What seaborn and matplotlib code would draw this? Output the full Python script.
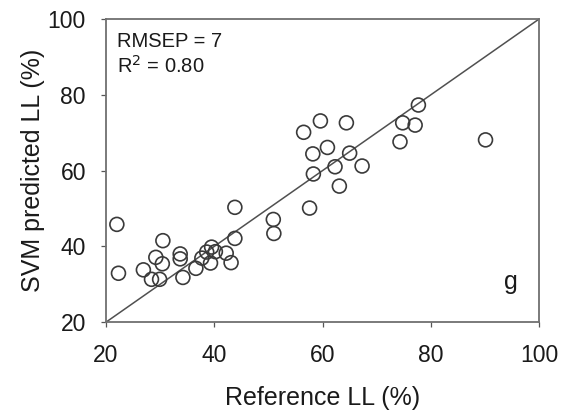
import matplotlib
matplotlib.use("Agg")
import matplotlib.pyplot as plt
import seaborn as sns
import pandas as pd

# Reference vs. SVM-predicted liquid limit (%)
reference_ll = [22.0, 22.3, 26.9, 28.4, 29.9, 29.2, 30.4, 30.5, 33.7, 33.7,
                34.2, 36.6, 37.7, 38.6, 39.5, 40.2, 39.3, 42.2, 43.1, 43.8,
                43.8, 50.9, 51.0, 57.6, 58.3, 56.5, 59.6, 64.4, 58.2, 60.9,
                65.0, 62.3, 67.3, 63.1, 74.8, 77.1, 74.3, 77.7, 90.1]
predicted_ll = [45.8, 32.9, 33.8, 31.3, 31.3, 37.1, 35.4, 41.5, 38.0, 36.7,
                31.8, 34.2, 36.9, 38.5, 39.8, 38.6, 35.6, 38.2, 35.7, 50.3,
                42.1, 47.1, 43.4, 50.1, 59.1, 70.1, 73.1, 72.6, 64.4, 66.1,
                64.6, 61.0, 61.2, 55.9, 72.6, 72.0, 67.6, 77.3, 68.1]

axis_ticks = [20, 40, 60, 80, 100]
identity_line = [20, 100]

df = pd.DataFrame({"reference": reference_ll, "predicted": predicted_ll})

sns.set_theme(style="ticks")
plt.rcParams["font.family"] = ["Liberation Sans", "DejaVu Sans"]

fig = plt.figure(figsize=(5.61, 4.13), dpi=100)
ax = fig.add_axes([0.189, 0.220, 0.772, 0.734])

edge = "#3a3a3a"
ax.plot(identity_line, identity_line, color="#505050", lw=1.1, zorder=1)
sns.scatterplot(data=df, x="reference", y="predicted", ax=ax,
                s=100, facecolor="none", edgecolor=edge, linewidth=1.2,
                zorder=2, legend=False)

ax.set_xlim(20, 100)
ax.set_ylim(20, 100)
ax.set_xticks(axis_ticks)
ax.set_yticks(axis_ticks)
ax.tick_params(direction="out", length=3.5, width=0.9, color="#555555",
               labelsize=16.5, labelcolor="#1a1a1a")
ax.tick_params(axis="x", pad=12)
ax.tick_params(axis="y", pad=11)
for sp in ax.spines.values():
    sp.set_visible(True)
    sp.set_color("#707070")
    sp.set_linewidth(1.3)

ax.set_xlabel("Reference LL (%)", fontsize=18, color="#1a1a1a", labelpad=14)
ax.set_ylabel("SVM predicted LL (%)", fontsize=18, color="#1a1a1a", labelpad=2)

ax.text(22.0, 96.6, "RMSEP = 7", fontsize=14.5, color="#1a1a1a",
        ha="left", va="top")
ax.text(22.0, 90.6, "R$^2$ = 0.80", fontsize=14.5, color="#1a1a1a",
        ha="left", va="top")
ax.text(94.8, 30.5, "g", fontsize=18, color="#1a1a1a", ha="center", va="center")

fig.savefig("out.png", dpi=100, facecolor="white")
